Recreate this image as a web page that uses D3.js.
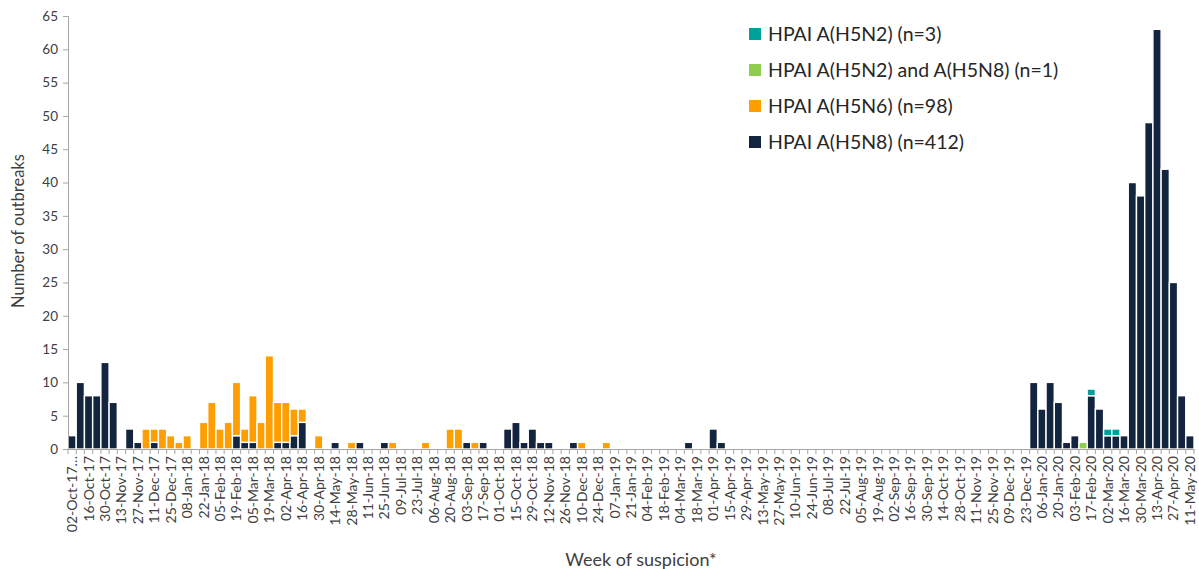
<!DOCTYPE html>
<html><head><meta charset="utf-8">
<script src="https://cdn.jsdelivr.net/npm/d3@7"></script>
<style>
body{margin:0;background:#fff;}
svg{display:block;font-family:Lato,"Open Sans",sans-serif;}
</style></head>
<body><svg id="c" width="1199" height="569"></svg>
<script>
// Weeks of suspicion (Monday start), 02-Oct-2017 .. 11-May-2020
const startWeek = new Date(2017, 9, 2);
const nWeeks = 137;
const fmt = d3.timeFormat("%d-%b-%y");
const weeks = d3.range(nWeeks).map(i => fmt(d3.timeDay.offset(startWeek, i * 7)));

const h5n8 = [
 2,10,8,8,13,7,0,3,1,0,
 1,0,0,0,0,0,0,0,0,0,
 2,1,1,0,0,1,1,2,4,0,
 0,0,1,0,0,1,0,0,1,0,
 0,0,0,0,0,0,0,0,1,0,
 1,0,0,3,4,1,3,1,1,0,
 0,1,0,0,0,0,0,0,0,0,
 0,0,0,0,0,1,0,0,3,1,
 0,0,0,0,0,0,0,0,0,0,
 0,0,0,0,0,0,0,0,0,0,
 0,0,0,0,0,0,0,0,0,0,
 0,0,0,0,0,0,0,10,6,10,
 7,1,2,0,8,6,2,2,2,40,
 38,49,63,42,25,8,2];
const h5n6 = [
 0,0,0,0,0,0,0,0,0,3,
 2,3,2,1,2,0,4,7,3,4,
 8,2,7,4,14,6,6,4,2,0,
 2,0,0,0,1,0,0,0,0,1,
 0,0,0,1,0,0,3,3,0,1,
 0,0,0,0,0,0,0,0,0,0,
 0,0,1,0,0,1,0,0,0,0,
 0,0,0,0,0,0,0,0,0,0,
 0,0,0,0,0,0,0,0,0,0,
 0,0,0,0,0,0,0,0,0,0,
 0,0,0,0,0,0,0,0,0,0,
 0,0,0,0,0,0,0,0,0,0,
 0,0,0,0,0,0,0,0,0,0,
 0,0,0,0,0,0,0];
const h5n2n8 = [
 0,0,0,0,0,0,0,0,0,0, 0,0,0,0,0,0,0,0,0,0,
 0,0,0,0,0,0,0,0,0,0, 0,0,0,0,0,0,0,0,0,0,
 0,0,0,0,0,0,0,0,0,0, 0,0,0,0,0,0,0,0,0,0,
 0,0,0,0,0,0,0,0,0,0, 0,0,0,0,0,0,0,0,0,0,
 0,0,0,0,0,0,0,0,0,0, 0,0,0,0,0,0,0,0,0,0,
 0,0,0,0,0,0,0,0,0,0, 0,0,0,0,0,0,0,0,0,0,
 0,0,0,1,0,0,0,0,0,0, 0,0,0,0,0,0,0];
const h5n2 = [
 0,0,0,0,0,0,0,0,0,0, 0,0,0,0,0,0,0,0,0,0,
 0,0,0,0,0,0,0,0,0,0, 0,0,0,0,0,0,0,0,0,0,
 0,0,0,0,0,0,0,0,0,0, 0,0,0,0,0,0,0,0,0,0,
 0,0,0,0,0,0,0,0,0,0, 0,0,0,0,0,0,0,0,0,0,
 0,0,0,0,0,0,0,0,0,0, 0,0,0,0,0,0,0,0,0,0,
 0,0,0,0,0,0,0,0,0,0, 0,0,0,0,0,0,0,0,0,0,
 0,0,0,0,1,0,1,1,0,0, 0,0,0,0,0,0,0];

const seriesKeys = ["H5N8","H5N6","H5N2N8","H5N2"];
const seriesData = {H5N8:h5n8, H5N6:h5n6, H5N2N8:h5n2n8, H5N2:h5n2};
const colors = {H5N8:"#13243f", H5N6:"#ff9e00", H5N2N8:"#8fce4c", H5N2:"#00a09a"};
const legendItems = [
  ["H5N2","HPAI A(H5N2) (n=3)"],
  ["H5N2N8","HPAI A(H5N2) and A(H5N8) (n=1)"],
  ["H5N6","HPAI A(H5N6) (n=98)"],
  ["H5N8","HPAI A(H5N8) (n=412)"]
];
const yTicks = d3.range(0, 66, 5);
const tickLabels = weeks.filter((d,i)=>i%2===0).map((d,i)=> i===0 ? d + "…" : d);

const rows = weeks.map((w,i)=>{const r={week:w}; seriesKeys.forEach(k=>r[k]=seriesData[k][i]); return r;});
const stacked = d3.stack().keys(seriesKeys)(rows);

const svg = d3.select("#c");
const x = d3.scaleBand().domain(weeks).range([68,1194]).padding(0);
const y = d3.scaleLinear().domain([0,65]).range([449,16]);

// bars
svg.append("g").selectAll("g").data(stacked).join("g")
  .attr("fill", d=>colors[d.key])
  .selectAll("rect").data(d=>d.filter(p=>p[1]-p[0]>0)).join("rect")
  .attr("x", d=>x(d.data.week))
  .attr("width", x.bandwidth())
  .attr("y", d=>y(d[1]))
  .attr("height", d=>y(d[0])-y(d[1]))
  .attr("stroke","#fff").attr("stroke-width",1.4);

// y axis
const ya = svg.append("g").attr("transform","translate(68,0)")
  .call(d3.axisLeft(y).tickValues(yTicks).tickSize(5).tickPadding(5));
ya.select(".domain").attr("stroke","#a6a6a6");
ya.selectAll(".tick line").attr("stroke","#a6a6a6");
ya.selectAll(".tick text").attr("fill","#404040").style("font-size","13.5px").style("font-family","Lato,'Open Sans',sans-serif");

// x axis
const xa = svg.append("g").attr("transform","translate(0,449)")
  .call(d3.axisBottom(x).tickSize(0).tickFormat(""));
xa.select(".domain").attr("stroke","#a6a6a6");
xa.selectAll(".tick").remove();
// band boundary tick marks
svg.append("g").selectAll("line").data(weeks).join("line")
  .attr("x1", d=>x(d)).attr("x2", d=>x(d))
  .attr("y1",449).attr("y2",454).attr("stroke","#a6a6a6");
svg.append("line").attr("x1",x.range()[1]).attr("x2",x.range()[1]).attr("y1",449).attr("y2",454).attr("stroke","#a6a6a6");

// x labels
svg.append("g").selectAll("text").data(tickLabels).join("text")
  .attr("transform",(d,i)=>`translate(${x(weeks[i*2])+x.bandwidth()/2+5},456) rotate(-90)`)
  .attr("text-anchor","end")
  .attr("fill","#404040").style("font-size","14px")
  .text(d=>d);

// axis titles
svg.append("text").attr("transform","translate(24,231) rotate(-90)")
  .attr("text-anchor","middle").attr("fill","#404040").style("font-size","16.5px")
  .text("Number of outbreaks");
svg.append("text").attr("x",641).attr("y",566)
  .attr("text-anchor","middle").attr("fill","#404040").style("font-size","18px")
  .text("Week of suspicion*");

// legend
const lg = svg.append("g").selectAll("g").data(legendItems).join("g")
  .attr("transform",(d,i)=>`translate(749,${28+i*36})`);
lg.append("rect").attr("width",12).attr("height",12).attr("fill",d=>colors[d[0]]);
lg.append("text").attr("x",19).attr("y",13).attr("fill","#262626").style("font-size","19.5px").text(d=>d[1]);
</script></body></html>
